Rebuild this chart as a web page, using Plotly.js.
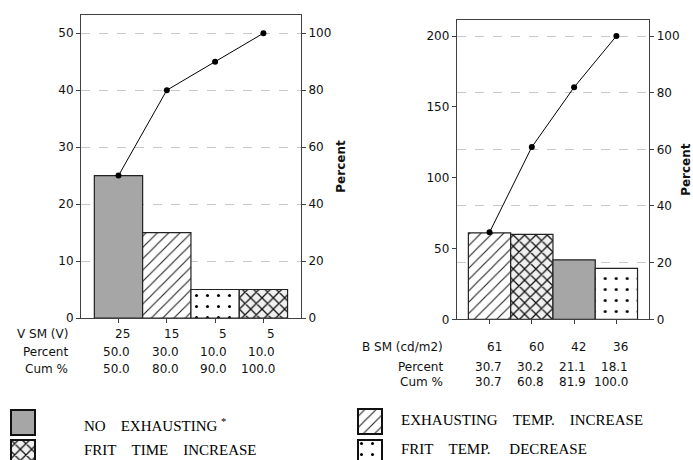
<!DOCTYPE html>
<html>
<head>
<meta charset="utf-8">
<script src="https://cdn.plot.ly/plotly-3.0.1.min.js"></script>
<style>
html,body{margin:0;padding:0;background:#fff;}
#chart{width:693px;height:460px;}
</style>
</head>
<body>
<div id="chart"></div>
<script>
// ---------- data ----------
const positions = [0, 1, 2, 3];

const vsmLabel = 'V SM (V)';
const vsmValues = [25, 15, 5, 5];
const vsmPercent = ['50.0', '30.0', '10.0', '10.0'];
const vsmCum = [50.0, 80.0, 90.0, 100.0];
const vsmPatterns = ['', '/', '.', 'x'];

const bsmLabel = 'B SM (cd/m2)';
const bsmValues = [61, 60, 42, 36];
const bsmPercent = ['30.7', '30.2', '21.1', '18.1'];
const bsmCum = [30.7, 60.8, 81.9, 100.0];
const bsmPatterns = ['/', 'x', '', '.'];

const legendLabels = ['NO\u00a0\u00a0\u00a0\u00a0EXHAUSTING <sup>*</sup>',
                      'FRIT\u00a0\u00a0\u00a0\u00a0TIME\u00a0\u00a0\u00a0\u00a0INCREASE',
                      'EXHAUSTING\u00a0\u00a0\u00a0\u00a0TEMP.\u00a0\u00a0\u00a0\u00a0INCREASE',
                      'FRIT\u00a0\u00a0\u00a0\u00a0TEMP.\u00a0\u00a0\u00a0\u00a0\u00a0DECREASE'];
const legendPatterns = ['', 'x', '/', '.'];

// ---------- styles ----------
const W = 693, H = 460;
const GRAY = '#a6a6a6';
const AX = '#404040';
const sans = 'DejaVu Sans';
const serif = 'Liberation Serif';

function patternFor(shape) {
  if (shape === '') return {shape: ''};
  if (shape === '/') return {shape: '/', fgcolor: '#222', bgcolor: '#fff', size: 8, solidity: 0.14, fillmode: 'replace'};
  if (shape === 'x') return {shape: 'x', fgcolor: '#111', bgcolor: '#f0f0f0', size: 8, solidity: 0.3, fillmode: 'replace'};
  return {shape: '.', fgcolor: '#000', bgcolor: '#fff', size: 11, solidity: 0.06, fillmode: 'replace'};
}
function colorFor(shape) { return shape === '' ? GRAY : '#fff'; }

const data = [];
function addBars(vals, pats, xa, ya) {
  vals.forEach((v, i) => {
    data.push({
      type: 'bar', x: [positions[i]], y: [v], xaxis: xa, yaxis: ya, width: 1,
      marker: {color: colorFor(pats[i]), line: {color: '#222', width: 1.2}, pattern: patternFor(pats[i])},
      hoverinfo: 'skip', showlegend: false
    });
  });
}
function addLine(cum, xa, ya) {
  data.push({
    type: 'scatter', mode: 'lines+markers', x: positions, y: cum, xaxis: xa, yaxis: ya,
    line: {color: '#000', width: 1}, marker: {color: '#000', size: 6},
    hoverinfo: 'skip', showlegend: false, cliponaxis: false
  });
}
addBars(vsmValues, vsmPatterns, 'x', 'y');
addLine(vsmCum, 'x', 'y2');
addBars(bsmValues, bsmPatterns, 'x2', 'y3');
addLine(bsmCum, 'x2', 'y4');

// legend swatches as tiny subplots
const swatchBoxes = [ // [left, top] in px
  [11, 410], [11, 440], [358, 409], [358, 440]
];
const layoutExtra = {};
swatchBoxes.forEach((b, i) => {
  const xn = 3 + i, yn = 5 + i;
  const bw = 24, bh = 25, pad = 2;
  const x0 = b[0] - pad, x1 = b[0] + bw + pad;
  const top = b[1] - pad;
  const bottom = Math.min(H, b[1] + bh + pad);
  const r1 = 1 + pad / bh;
  const r0 = r1 - (bottom - top) / bh;
  data.push({
    type: 'bar', x: [0], y: [1], width: 1, xaxis: 'x' + xn, yaxis: 'y' + yn,
    marker: {color: colorFor(legendPatterns[i]), line: {color: '#111', width: 2},
      pattern: patternFor(legendPatterns[i])},
    hoverinfo: 'skip', showlegend: false
  });
  layoutExtra['xaxis' + xn] = {domain: [x0 / W, x1 / W], range: [-0.5 - pad / bw, 0.5 + pad / bw],
    visible: false, fixedrange: true, anchor: 'y' + yn};
  layoutExtra['yaxis' + yn] = {domain: [1 - bottom / H, 1 - top / H], range: [r0, r1],
    visible: false, fixedrange: true, anchor: 'x' + xn};
});

// ---------- axes ----------
const tickFont = {family: sans, size: 12, color: '#111'};
function xAxis(dom, ya) {
  return {domain: dom, anchor: ya, range: [-0.776, 3.778], tickvals: positions, showticklabels: false,
    ticks: 'outside', ticklen: 4, tickcolor: AX, showline: true, linecolor: AX, linewidth: 1,
    mirror: true, showgrid: false, zeroline: false, fixedrange: true};
}
function yLeft(dom, xa, range, dtick) {
  return {domain: dom, anchor: xa, range: range, dtick: dtick, ticks: 'outside', ticklen: 4,
    tickcolor: AX, showline: true, linecolor: AX, linewidth: 1, showgrid: false, zeroline: false,
    tickfont: tickFont, fixedrange: true};
}
function yRight(over, xa, range) {
  return {overlaying: over, anchor: xa, side: 'right', range: range, dtick: 20, ticks: 'outside',
    ticklen: 4, tickcolor: AX, showline: true, linecolor: AX, linewidth: 1, showgrid: true,
    gridcolor: '#c8c8c8', griddash: 'dash', gridwidth: 1, zeroline: false, tickfont: tickFont,
    title: {text: '<b>Percent</b>', font: {family: sans, size: 12, color: '#111'}, standoff: 6},
    fixedrange: true};
}

// ---------- table + legend text ----------
const annotations = [];
const tableFont = {family: sans, size: 12, color: '#111'};
function addTable(label, vals, pct, cum, xa, rowsY, labelRight) {
  const rows = [[label, vals.map(String)], ['Percent', pct], ['Cum %', cum.map(c => c.toFixed(1))]];
  rows.forEach((r, ri) => {
    annotations.push({xref: 'paper', yref: 'paper', x: labelRight / W, y: 1 - rowsY[ri] / H,
      xanchor: 'right', yanchor: 'middle', text: r[0], showarrow: false, font: tableFont});
    r[1].forEach((t, ci) => {
      annotations.push({xref: xa, yref: 'paper', x: positions[ci], y: 1 - rowsY[ri] / H, xshift: 14,
        xanchor: 'right', yanchor: 'middle', text: t, showarrow: false, font: tableFont});
    });
  });
}
addTable(vsmLabel, vsmValues, vsmPercent, vsmCum, 'x', [334, 352, 369], 70);
addTable(bsmLabel, bsmValues, bsmPercent, bsmCum, 'x2', [347, 366.5, 381.5], 445);

const legendPos = [[82, 425], [82, 450], [399, 419.5], [399, 448.5]];
legendLabels.forEach((t, i) => {
  annotations.push({xref: 'paper', yref: 'paper', x: legendPos[i][0] / W, y: 1 - legendPos[i][1] / H,
    xanchor: 'left', yanchor: 'middle', text: t, showarrow: false,
    font: {family: serif, size: 15, color: '#000'}});
});

const layout = Object.assign({
  width: W, height: H,
  margin: {l: 0, r: 0, t: 0, b: 0, pad: 0},
  paper_bgcolor: '#fff', plot_bgcolor: 'rgba(0,0,0,0)',
  showlegend: false,
  bargap: 0, barmode: 'overlay',
  font: {family: sans, size: 12, color: '#111'},
  xaxis: xAxis([81 / W, 301 / W], 'y'),
  yaxis: yLeft([1 - 318 / H, 1 - 15 / H], 'x', [0, 53.2], 10),
  yaxis2: yRight('y', 'x', [0, 106.4]),
  xaxis2: xAxis([456.7 / W, 649.3 / W], 'y3'),
  yaxis3: yLeft([1 - 319.3 / H, 1 - 20 / H], 'x2', [0, 211.3], 50),
  yaxis4: yRight('y3', 'x2', [0, 105.65]),
  annotations: annotations
}, layoutExtra);

Plotly.newPlot('chart', data, layout, {displayModeBar: false, staticPlot: true});
</script>
</body>
</html>
